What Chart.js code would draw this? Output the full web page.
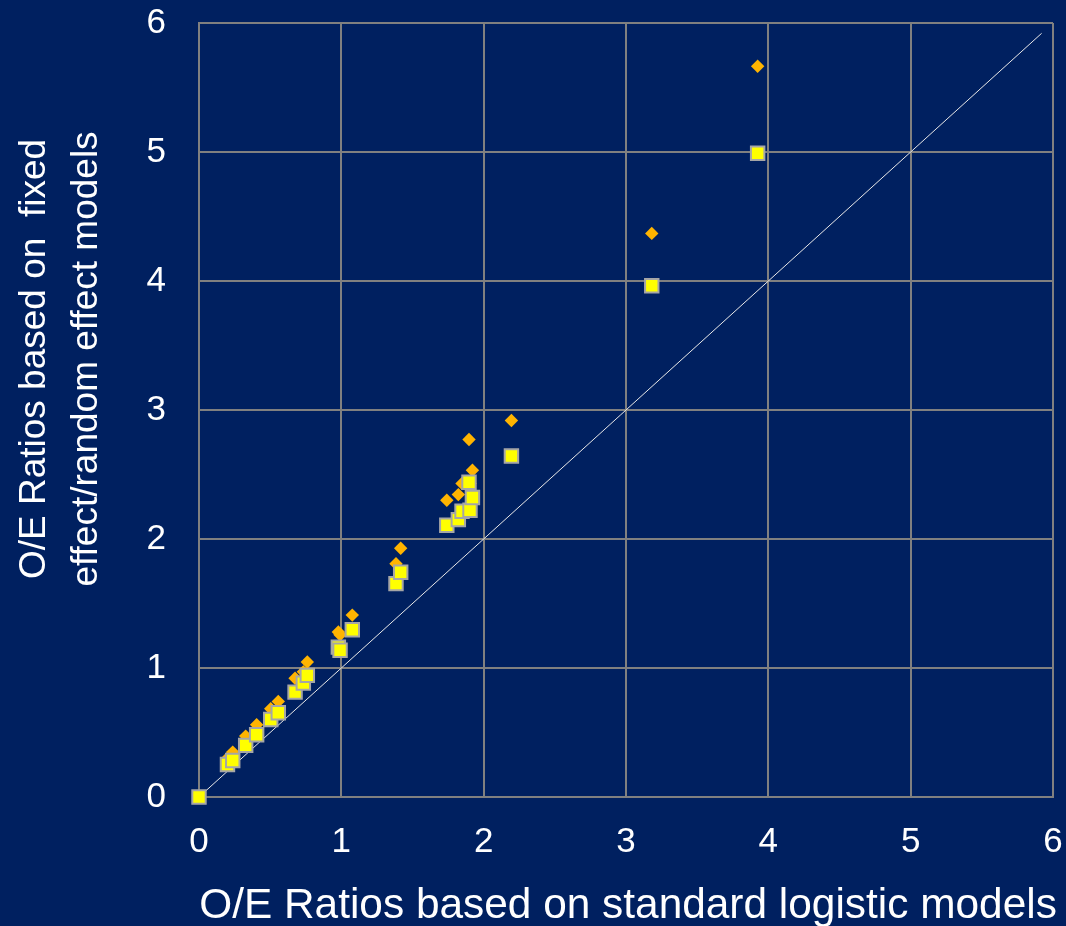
<!DOCTYPE html>
<html>
<head>
<meta charset="utf-8">
<script src="https://cdn.jsdelivr.net/npm/chart.js@4/dist/chart.umd.min.js"></script>
<style>
  html, body { margin: 0; padding: 0; background: #002060; }
  canvas { display: block; }
</style>
</head>
<body>
<canvas id="oeChart" width="1066" height="926"></canvas>
<script>
// O/E ratio per hospital, standard logistic model (x)
const standardOE = [0, 0.20, 0.237, 0.328, 0.405, 0.504, 0.557, 0.675, 0.733, 0.761, 0.979, 0.991, 1.077,
    1.384, 1.417, 1.741, 1.822, 1.848, 1.897, 1.904, 1.921, 2.195, 3.181, 3.925];
// random effect model (yellow squares)
const randomOE = [0, 0.252, 0.283, 0.400, 0.483, 0.601, 0.653, 0.813, 0.883, 0.943, 1.162, 1.137, 1.297,
    1.654, 1.742, 2.106, 2.150, 2.215, 2.440, 2.223, 2.321, 2.644, 3.963, 4.990];
// fixed effect model (orange diamonds)
const fixedOE = [0, 0.30, 0.348, 0.472, 0.560, 0.684, 0.741, 0.920, 0.970, 1.046, 1.279, 1.258, 1.410,
    1.809, 1.928, 2.300, 2.344, 2.430, 2.771, 2.430, 2.533, 2.919, 4.369, 5.665];
// line of identity
const identityX = [0, 5.92];
const tickValues = [0, 1, 2, 3, 4, 5, 6];

const xTitle = 'O/E Ratios based on standard logistic models';
const yTitleLines = ['O/E Ratios based on  fixed', 'effect/random effect models'];

const FONT = '"Liberation Sans", Arial, sans-serif';

const toPoints = (xs, ys) => xs.map((x, i) => ({ x: x, y: ys[i] }));

// draws the two axis titles (y title sits above the axis centre in the original)
const axisTitles = {
    id: 'axisTitles',
    afterDraw(chart) {
        const { ctx, chartArea } = chart;
        ctx.save();
        ctx.fillStyle = '#ffffff';
        ctx.textAlign = 'center';
        ctx.textBaseline = 'alphabetic';
        ctx.font = `42.4px ${FONT}`;
        ctx.fillText(xTitle, (chartArea.left + chartArea.right) / 2 + 2, 918);

        ctx.font = `37px ${FONT}`;
        const cy = (chartArea.top + chartArea.bottom) / 2 - 51;
        ctx.translate(0, cy);
        ctx.rotate(-Math.PI / 2);
        ctx.fillText(yTitleLines[0], 0, 45);
        ctx.fillText(yTitleLines[1], 0, 97);
        ctx.restore();
    }
};

// fixed axis sizes, no extra room for end labels
const axisOpts = (fit) => ({
    type: 'linear',
    min: 0,
    max: 6,
    afterBuildTicks: (scale) => { scale.ticks = tickValues.map(v => ({ value: v })); },
    afterFit: (scale) => {
        fit(scale);
        scale.paddingTop = 0;
        scale.paddingBottom = 0;
        scale.paddingLeft = 0;
        scale.paddingRight = 0;
    },
    grid: { color: '#808080', lineWidth: 2, drawTicks: false },
    border: { color: '#808080', width: 2 },
    ticks: { color: '#ffffff', font: { family: FONT, size: 35 }, padding: 24 }
});

const xAxis = axisOpts(scale => { scale.height = 129; });
const yAxis = axisOpts(scale => { scale.width = 199; });
yAxis.ticks = { ...yAxis.ticks, padding: 33 };

new Chart(document.getElementById('oeChart'), {
    type: 'scatter',
    data: {
        datasets: [
            {
                label: 'Random effect',
                data: toPoints(standardOE, randomOE),
                pointStyle: 'rect',
                pointRadius: 9.5,
                pointBackgroundColor: '#FFFF00',
                pointBorderColor: '#A6A6A6',
                pointBorderWidth: 2,
                clip: false,
                order: 1
            },
            {
                label: 'Fixed effect',
                data: toPoints(standardOE, fixedOE),
                pointStyle: 'rectRot',
                pointRadius: 6.7,
                pointBackgroundColor: '#FFB400',
                pointBorderWidth: 0,
                clip: false,
                order: 2
            },
            {
                type: 'line',
                label: 'Identity',
                data: toPoints(identityX, identityX),
                borderColor: '#E8E8E8',
                borderWidth: 1,
                pointRadius: 0,
                fill: false,
                order: 3
            }
        ]
    },
    options: {
        responsive: false,
        animation: false,
        layout: { padding: { top: 23, right: 13, bottom: 0, left: 0 } },
        plugins: {
            legend: { display: false },
            tooltip: { enabled: false }
        },
        scales: { x: xAxis, y: yAxis }
    },
    plugins: [axisTitles]
});
</script>
</body>
</html>
